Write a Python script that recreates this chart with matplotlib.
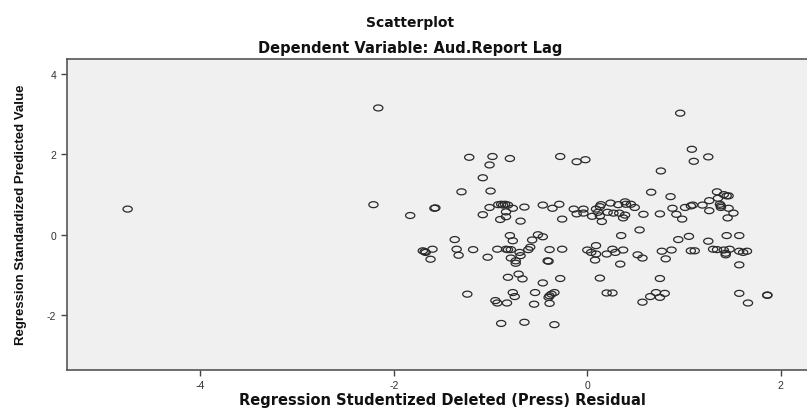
import numpy as np
import matplotlib
matplotlib.use("Agg")
import matplotlib.pyplot as plt
from matplotlib.path import Path

# studentized deleted residuals (x) and standardized predicted values (y)
resid_x = [
    -4.75, -2.16, 0.96, -2.21, -1.83, -1.58, -1.57,
    -1.22, -0.98, -0.80, -1.01, -1.08, -1.30, -1.00,
    -0.28, -0.11, -0.02,
    -0.92, -0.89, -0.85, -0.82, -0.87,
    -1.01, -1.08, -0.77, -0.84, -0.84, -0.90, -0.69, -0.65, -0.46, -0.36, -0.29, -0.26,
    -0.14, -0.11, -0.04, -0.04, 0.05, 0.09, 0.13, 0.14, 0.11, 0.13, 0.15, 0.24, 0.21,
    0.27, 0.32, 0.33, 0.37, 0.39, 0.39, 0.40,
    1.08, 1.10, 1.25, 0.76, 0.66, 0.86, 1.34, 1.41, 1.44, 1.46, 1.35, 1.26, 1.37, 1.38,
    1.38, 1.46, 1.51, 1.26, 1.45, 1.19, 1.09, 1.07, 1.01, 0.88, 0.92, 0.98, 0.75, 0.58,
    0.49, 0.45, 0.54,
    -1.70, -1.68, -1.67, -1.60, -1.62,
    -1.37, -1.35, -1.33, -1.18, -1.03, -0.93, -0.84, -0.82, -0.79, -0.80, -0.77, -0.79,
    -0.74, -0.74, -0.70, -0.69, -0.61, -0.59, -0.57, -0.51, -0.46, -0.41, -0.40, -0.39,
    -0.26, 0.00, 0.04, 0.09, 0.09, 0.08, 0.20, 0.26, 0.29, 0.37, 0.34, 0.35,
    -0.82, -0.71, -0.67, -0.46, -0.28, 0.13, -1.24, -0.77, -0.75, -0.54, -0.39, -0.37,
    -0.34, -0.40, 0.20, 0.26, -0.95, -0.93, -0.83, -0.55, -0.39, -0.89, -0.65, -0.34,
    0.52, 0.57, 0.77, 0.87, 0.81, 0.94, 1.05, 1.07, 1.11, 1.25, 1.30, 1.34, 1.41, 1.43,
    1.43, 1.47, 1.44, 1.57, 1.57, 1.61, 1.65, 1.57, 0.75, 0.71, 0.80, 0.65, 0.75, 0.57,
    1.57, 1.66, 1.86, 1.86,
]
pred_y = [
    0.64, 3.16, 3.03, 0.75, 0.48, 0.66, 0.67,
    1.93, 1.95, 1.90, 1.74, 1.42, 1.07, 1.09,
    1.95, 1.82, 1.87,
    0.75, 0.76, 0.76, 0.74, 0.74,
    0.68, 0.50, 0.66, 0.57, 0.45, 0.38, 0.34, 0.69, 0.74, 0.66, 0.76, 0.39,
    0.64, 0.52, 0.64, 0.54, 0.46, 0.64, 0.70, 0.75, 0.56, 0.47, 0.33, 0.79, 0.56,
    0.54, 0.75, 0.54, 0.42, 0.49, 0.82, 0.76,
    2.13, 1.83, 1.94, 1.59, 1.06, 0.95, 1.07, 1.00, 0.97, 0.97, 0.91, 0.85, 0.76, 0.72,
    0.68, 0.66, 0.54, 0.60, 0.42, 0.74, 0.74, 0.72, 0.68, 0.66, 0.51, 0.39, 0.52, 0.51,
    0.68, 0.76, 0.12,
    -0.40, -0.42, -0.44, -0.36, -0.61,
    -0.12, -0.36, -0.51, -0.37, -0.56, -0.36, -0.36, -0.37, -0.37, -0.02, -0.15, -0.58,
    -0.65, -0.71, -0.44, -0.52, -0.37, -0.31, -0.13, 0.00, -0.05, -0.65, -0.66, -0.37,
    -0.36, -0.38, -0.44, -0.48, -0.27, -0.63, -0.48, -0.36, -0.44, -0.38, -0.73, -0.02,
    -1.06, -0.98, -1.10, -1.20, -1.09, -1.08, -1.48, -1.44, -1.54, -1.44, -1.52, -1.48,
    -1.44, -1.56, -1.45, -1.45, -1.64, -1.70, -1.70, -1.73, -1.71, -2.21, -2.18, -2.24,
    -0.50, -0.58, -0.41, -0.38, -0.60, -0.12, -0.04, -0.40, -0.40, -0.16, -0.36, -0.37,
    -0.38, -0.46, -0.50, -0.36, -0.02, -0.02, -0.41, -0.44, -0.41, -0.75, -1.09, -1.44,
    -1.46, -1.54, -1.56, -1.68, -1.46, -1.70, -1.50, -1.51,
]

x_ticks = [-4, -2, 0, 2]
y_ticks = [-2, 0, 2, 4]

# wide, flat open circle like the stretched SPSS output
t = np.linspace(0, 2 * np.pi, 40)
ellipse = Path(np.column_stack([np.cos(t), 0.65 * np.sin(t)]), closed=True)

plt.rcParams['font.family'] = ['Liberation Sans', 'DejaVu Sans']
plt.rcParams['axes.unicode_minus'] = False

fig = plt.figure(figsize=(8.07, 4.10), dpi=100)
ax = fig.add_axes([0.0826, 0.0951, 0.9174, 0.7586])
ax.set_facecolor('#f0f0f0')

ax.scatter(resid_x, pred_y, marker=ellipse, s=44, facecolors='none',
           edgecolors='#2a2a2a', linewidths=0.9)

ax.set_xlim(-5.38, 2.27)
ax.set_ylim(-3.37, 4.38)
ax.set_xticks(x_ticks)
ax.set_yticks(y_ticks)
ax.tick_params(direction='out', length=4, width=1, colors='#444444',
               labelsize=7.5, labelcolor='#333333')
for side in ['left', 'bottom', 'top']:
    ax.spines[side].set_color('#555555')
    ax.spines[side].set_linewidth(1.2)
ax.spines['right'].set_visible(False)

wide = ['DejaVu Sans']
fig.text(0.508, 0.943, 'Scatterplot', ha='center', va='center',
         fontsize=10, fontweight='bold', color='#111111', family=wide)
fig.text(0.508, 0.882, 'Dependent Variable: Aud.Report Lag', ha='center', va='center',
         fontsize=10.5, fontweight='bold', color='#111111', family=wide)
fig.text(0.548, 0.024, 'Regression Studentized Deleted (Press) Residual',
         ha='center', va='center', fontsize=10.5, fontweight='bold', color='#111111',
         family=wide)
fig.text(0.026, 0.476, 'Regression Standardized Predicted Value', rotation=90,
         ha='center', va='center', fontsize=9.5, fontweight='bold', color='#111111')

fig.savefig('out.png', dpi=100)
